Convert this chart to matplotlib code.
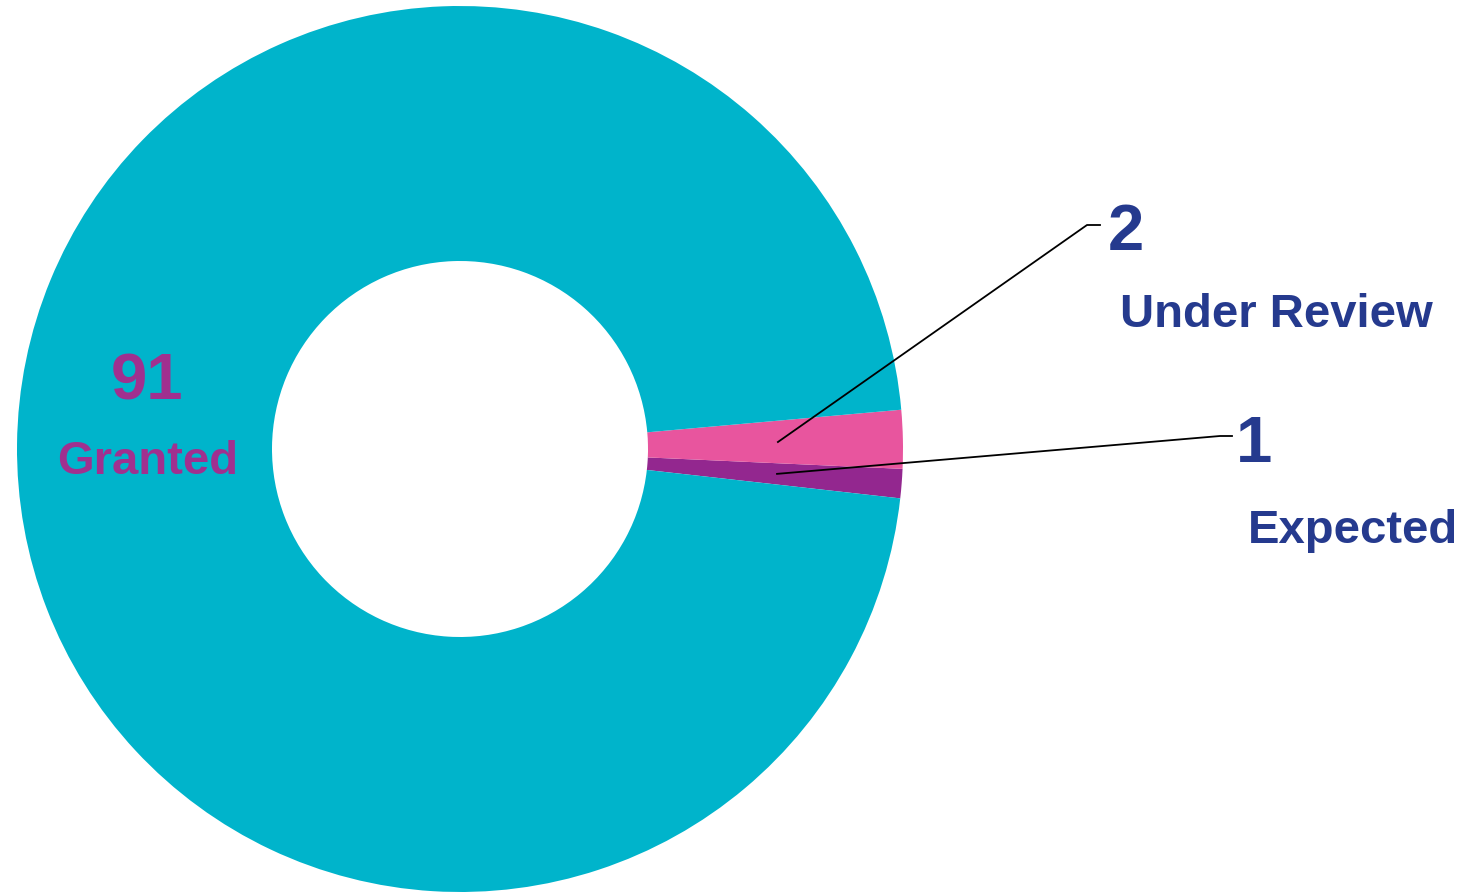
import numpy as np
import matplotlib.pyplot as plt

# Data
categories = ['Expected', 'Under Review', 'Granted']
counts = [1, 2, 91]
slice_colors = ['#93278F', '#E8559E', '#00B4CB']

# Figure in pixel units: 1 data unit = 1 pixel
W, H = 1473, 892
fig = plt.figure(figsize=(W / 100, H / 100), dpi=100)
ax = fig.add_axes([0, 0, 1, 1])

cx, cy = 460, H - 449
r_out, r_in = 443, 188

wedges, _ = ax.pie(counts, colors=slice_colors, startangle=-6.4, counterclock=True,
                   radius=r_out, center=(cx, cy), frame=True,
                   wedgeprops=dict(width=r_out - r_in, linewidth=0))
ax.set_xlim(0, W)
ax.set_ylim(0, H)
ax.set_aspect('equal')
ax.axis('off')

navy = '#253A8E'
purple_txt = '#A0308F'
font = 'Liberation Sans'

# Leader lines from the middle of the small wedges to their labels
elbows = {'Under Review': [(1087, H - 225), (1100, H - 225)],
          'Expected': [(1220, H - 436), (1232, H - 436)]}
for w, name in zip(wedges, categories):
    if name not in elbows:
        continue
    mid = np.deg2rad((w.theta1 + w.theta2) / 2)
    sx, sy = cx + 318 * np.cos(mid), cy + 318 * np.sin(mid)
    pts = [(sx, sy)] + elbows[name]
    ax.plot([p[0] for p in pts], [p[1] for p in pts], color='black', lw=1.3)

# Labels
ax.text(1108, H - 250, str(counts[1]), color=navy, fontsize=47, fontweight='bold',
        family=font, ha='left', va='baseline')
ax.text(1120, H - 327, categories[1], color=navy, fontsize=34, fontweight='bold',
        family=font, ha='left', va='baseline')
ax.text(1236, H - 462, str(counts[0]), color=navy, fontsize=47, fontweight='bold',
        family=font, ha='left', va='baseline')
ax.text(1248, H - 543, categories[0], color=navy, fontsize=34, fontweight='bold',
        family=font, ha='left', va='baseline')
ax.text(147, H - 400, str(counts[2]), color=purple_txt, fontsize=47, fontweight='bold',
        family=font, ha='center', va='baseline')
ax.text(148, H - 474, categories[2], color=purple_txt, fontsize=34, fontweight='bold',
        family=font, ha='center', va='baseline')

fig.savefig('out.png', dpi=100)
